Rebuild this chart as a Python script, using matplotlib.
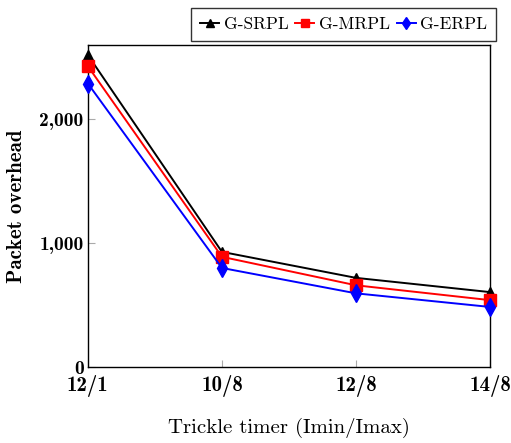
import matplotlib
matplotlib.use("Agg")
import matplotlib.pyplot as plt
from matplotlib.ticker import FuncFormatter

plt.rcParams['axes.formatter.use_mathtext'] = True

timers = ['12/1', '10/8', '12/8', '14/8']
g_srpl = [2520, 930, 720, 605]
g_mrpl = [2430, 890, 660, 540]
g_erpl = [2290, 800, 595, 485]

fig = plt.figure(figsize=(5.11, 4.43), dpi=100)
ax = fig.add_axes([0.172, 0.1716, 0.787, 0.7264])

x = range(len(timers))
ax.plot(x, g_srpl, color='black', marker='^', markersize=7.5, lw=1.4,
        label='G-SRPL', clip_on=False, zorder=3)
ax.plot(x, g_mrpl, color='red', marker='s', markersize=9, lw=1.4,
        label='G-MRPL', clip_on=False, zorder=4)
ax.plot(x, g_erpl, color='blue', marker='d', markersize=9, lw=1.4,
        label='G-ERPL', clip_on=False, zorder=5)

ax.set_xlim(0, 3)
ax.set_ylim(0, 2600)
ax.set_xticks(list(x))
ax.set_xticklabels(timers, fontfamily='cmb10', fontsize=15)
ax.set_yticks([0, 1000, 2000])
ax.yaxis.set_major_formatter(FuncFormatter(lambda v, p: f"{int(v):,}"))
for lab in ax.get_yticklabels():
    lab.set_fontfamily('cmb10')
    lab.set_fontsize(14)
ax.tick_params(direction='in', length=5, color='#aaaaaa', width=0.8, pad=3)
ax.tick_params(axis='x', pad=6)
for s in ax.spines.values():
    s.set_linewidth(1.0)

ax.set_xlabel('Trickle timer (Imin/Imax)', fontfamily='cmr10', fontsize=15, labelpad=15)
ax.set_ylabel('Packet overhead', fontfamily='cmb10', fontsize=15, labelpad=10)

leg = ax.legend(ncol=3, loc='lower right', bbox_to_anchor=(1.025, 1.0),
                frameon=True, fancybox=False, edgecolor='black',
                prop={'family': 'cmr10', 'size': 12.5},
                handlelength=1.1, handletextpad=0.25, columnspacing=0.4,
                borderpad=0.5, markerscale=0.7, borderaxespad=0.25)
leg.get_frame().set_linewidth(1.0)

fig.savefig('out.png', dpi=100)
